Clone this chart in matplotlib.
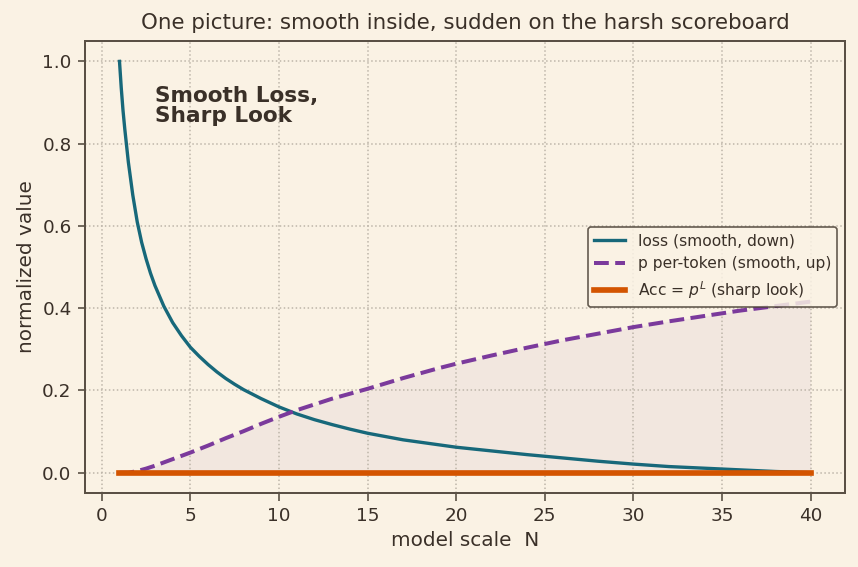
import numpy as np
import matplotlib as mpl
mpl.use('Agg')
import matplotlib.pyplot as plt

# values
n_loss = [1, 1.1, 1.2, 1.3, 1.4, 1.5, 1.75, 2, 2.25, 2.5, 2.75, 3, 3.5, 4,
          4.5, 5, 5.5, 6, 6.5, 7, 7.5, 8, 9, 10, 11, 12, 13, 14, 15, 16, 17,
          18, 19, 20, 22, 24, 26, 28, 30, 32, 34, 36, 38, 40]
loss = [1.0, 0.935, 0.88, 0.835, 0.795, 0.755, 0.675, 0.61, 0.56, 0.52,
        0.485, 0.455, 0.405, 0.365, 0.333, 0.305, 0.283, 0.263, 0.245, 0.229,
        0.215, 0.202, 0.180, 0.160, 0.143, 0.129, 0.117, 0.106, 0.096, 0.088,
        0.080, 0.074, 0.068, 0.062, 0.053, 0.044, 0.036, 0.028, 0.021, 0.015,
        0.011, 0.007, 0.003, 0.0]

n_p = [1, 1.5, 2, 2.5, 3, 3.5, 4, 4.5, 5, 6, 7, 8, 9, 10, 11, 12, 13, 14, 15,
       16, 17, 18, 19, 20, 22, 24, 26, 28, 30, 32, 34, 36, 38, 40]
p_tok = [0.0, 0.0, 0.004, 0.010, 0.017, 0.025, 0.033, 0.041, 0.049, 0.066,
         0.084, 0.101, 0.119, 0.136, 0.152, 0.166, 0.180, 0.192, 0.204, 0.217,
         0.230, 0.242, 0.254, 0.265, 0.285, 0.304, 0.322, 0.338, 0.354, 0.368,
         0.381, 0.394, 0.405, 0.416]
acc = [0.0] * len(n_p)

bg = '#faf2e4'
ink = '#3a3028'
plt.rcParams['text.color'] = ink
plt.rcParams['axes.labelcolor'] = ink
plt.rcParams['xtick.color'] = '#5a5045'
plt.rcParams['ytick.color'] = '#5a5045'
plt.rcParams['xtick.labelcolor'] = ink
plt.rcParams['ytick.labelcolor'] = ink

fig, ax = plt.subplots(figsize=(7.15, 4.725), dpi=120)
fig.patch.set_facecolor(bg)
ax.set_facecolor(bg)

ax.fill_between(n_p, acc, p_tok, color='#7b3a9c', alpha=0.06, lw=0)
ax.plot(n_loss, loss, color='#17687a', lw=2.0, label='loss (smooth, down)')
ax.plot(n_p, p_tok, color='#7b3a9c', lw=2.4, ls='--',
        label='p per-token (smooth, up)')
ax.plot(n_p, acc, color='#d35400', lw=3.4, label=r'Acc = $p^L$ (sharp look)')

ax.grid(True, ls=':', color='#bcb4a8', lw=0.9)
for s in ax.spines.values():
    s.set_color('#5a5045')
    s.set_linewidth(1.2)
ax.tick_params(labelsize=11, length=4.5, width=1.0)

ax.set_xlabel('model scale  N', fontsize=12)
ax.set_ylabel('normalized value', fontsize=12)
ax.set_title('One picture: smooth inside, sudden on the harsh scoreboard',
             fontsize=12.8, pad=7)

ax.text(3, 0.94, 'Smooth Loss,\nSharp Look', fontsize=13, fontweight='bold',
        va='top', ha='left', linespacing=1.0)

leg = ax.legend(loc='center right', fontsize=9.3, framealpha=0.85,
                facecolor=bg, edgecolor='#4a4035')
leg.get_frame().set_linewidth(1.0)

fig.subplots_adjust(left=0.099, right=0.985, top=0.928, bottom=0.13)
fig.savefig('out.png', facecolor=bg)
